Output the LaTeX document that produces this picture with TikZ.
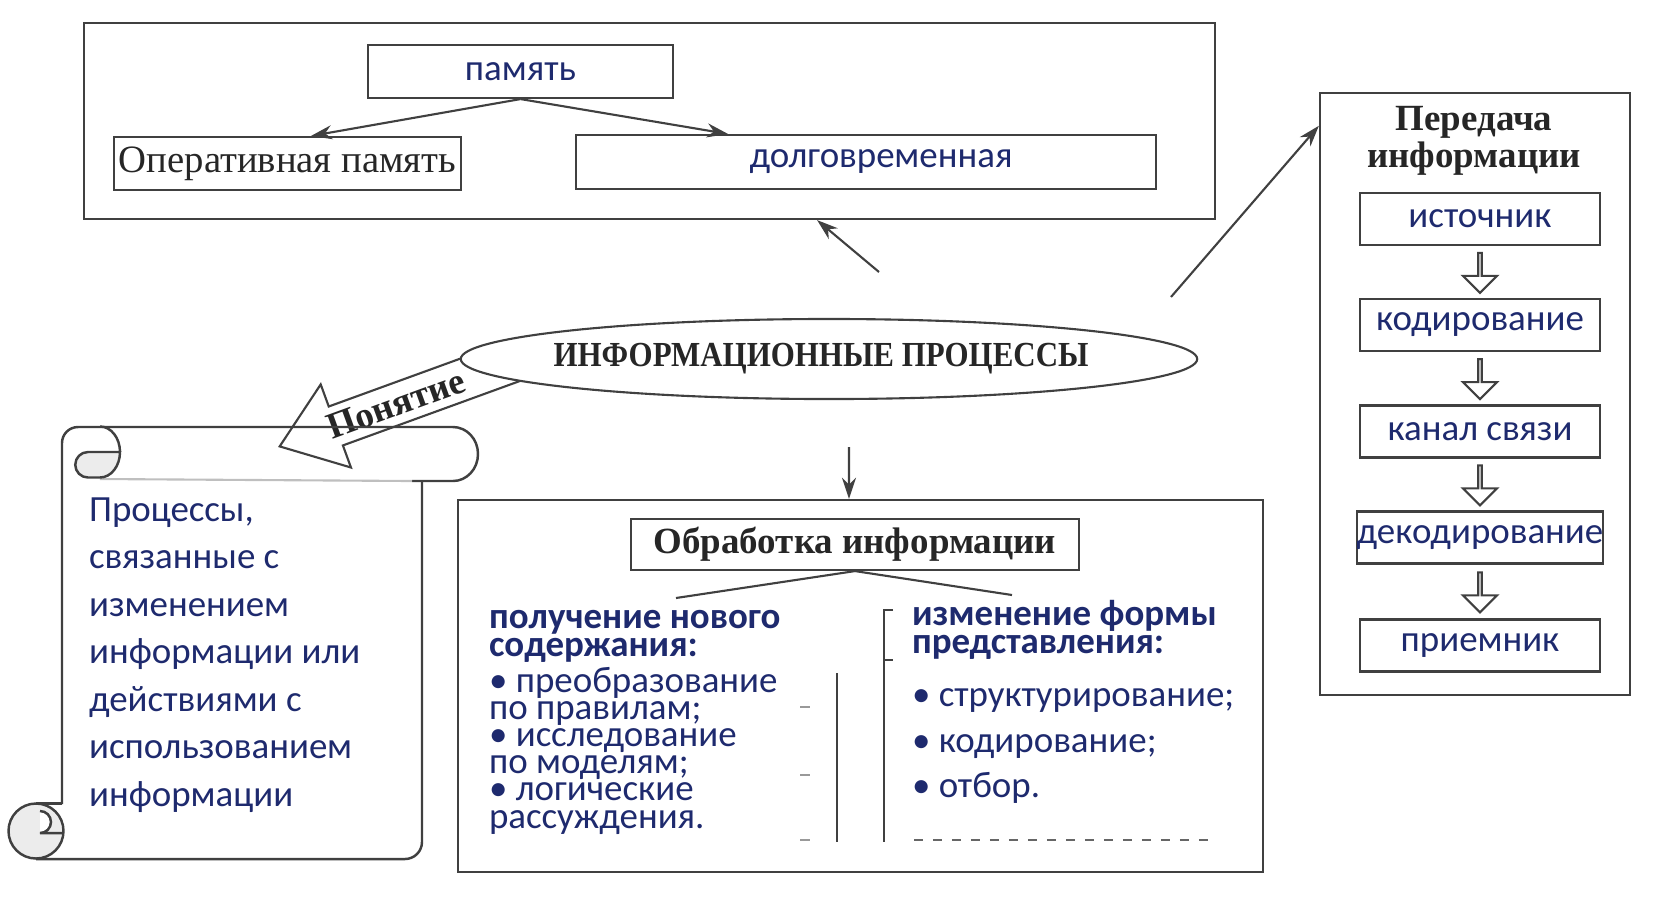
\documentclass[tikz,border=0pt]{standalone}
\usepackage{fontspec}
\setmainfont{Liberation Serif}
\newfontfamily\calfont{Carlito}
\usetikzlibrary{arrows.meta, shapes.geometric, shapes.arrows, calc}
\definecolor{ink}{RGB}{30,42,110}

\begin{document}
\begin{tikzpicture}[x=0.01cm, y=-0.01cm, line width=0.6pt,
        blk/.style={draw=black!75, inner sep=0pt},
        ser/.style={font=\fontsize{11}{11}\selectfont, text=black!85},
        serb/.style={font=\bfseries\fontsize{10.5}{10.5}\selectfont, text=black!85},
        cal/.style={font=\calfont\fontsize{10.5}{12}\selectfont, text=ink},
        txt/.style={text=ink, anchor=base west, align=left, inner sep=0pt},
        arr/.style={draw=black!75, -{Stealth[length=6pt, width=4pt]}},
        hollow/.style={single arrow, draw=black!75, fill=white, rotate=-90, minimum height=0.40cm,
            minimum width=0.34cm, single arrow head extend=0.09cm, inner sep=0pt},
        scroll/.style={draw=black!75, line width=0.7pt}]
          
               \useasboundingbox (0,0) rectangle (1654,896);

               %% память
               \node[blk, minimum width=11.31cm, minimum height=1.96cm] (mem) at (649.5,121) {};
               \node[blk, cal, minimum width=3.05cm, minimum height=0.53cm] (pam) at (520.5,71.5) {память};
               \node[blk, ser, minimum width=3.47cm, minimum height=0.53cm] (oper) at (287.5,163.5) {Оперативная память};
               \node[blk, cal, minimum width=5.80cm, minimum height=0.54cm] (dolg) at (866,162) {\hspace*{0.3cm}долговременная};
               \draw[arr] (pam.south) -- ($(oper.north)+(23.5,0)$);
               \draw[arr] (pam.south) -- ($(dolg.north)+(-138,0)$);

               %% передача
               \node[blk, minimum width=3.10cm, minimum height=6.02cm] (trans) at (1475,394) {};
               \node[serb, align=center] (transt) at (1474,141) {Передача\\информации};
               \node[blk, cal, minimum width=2.40cm, minimum height=0.52cm] (src) at (1480,219) {источник};
               \node[blk, cal, minimum width=2.40cm, minimum height=0.52cm] (enc) at (1480,325) {кодирование};
               \node[blk, cal, minimum width=2.40cm, minimum height=0.52cm] (chan) at (1480,431.5) {канал связи};
               \node[blk, cal, minimum width=2.40cm, minimum height=0.52cm] (dec) at (1480,537.5) {декодирование};
               \node[blk, cal, minimum width=2.40cm, minimum height=0.52cm] (rcv) at (1480,645.5) {приемник};
               \foreach \a/\b in {src/enc, enc/chan, chan/dec, dec/rcv}
                   \node[hollow] (h\a) at ($(\a.south)!0.5!(\b.north)$) {};

               %% Понятие
               \node[single arrow, draw=black!75, fill=white, rotate=20, shape border rotate=180,
                   minimum height=2.5cm, single arrow head extend=0.235cm, single arrow tip angle=73,
                   inner xsep=1pt, inner ysep=2.1pt, serb, anchor=tip] (pon) at (278,447) {Понятие\hspace*{0.3cm}};

               %% процессы
               \node[ellipse, draw=black!75, fill=white, minimum width=7.36cm, minimum height=0.80cm] (proc) at (829,359) {};
               \node[font=\bfseries\fontsize{10}{10}\selectfont, text=black!85, inner sep=0pt] (proct) at (821,359)
                   {\scalebox{0.88}[1]{ИНФОРМАЦИОННЫЕ ПРОЦЕССЫ}};
               \coordinate (pm) at (879,272);
               \coordinate (pt) at (1171,297);
               \coordinate (pd) at (849,447);
               \draw[arr] (pm) -- ([xshift=1.675cm]mem.south);
               \draw[arr] (pt) -- ([yshift=-0.34cm]trans.north west);

               %% обработка
               \node[blk, minimum width=8.05cm, minimum height=3.72cm] (obr) at (860.5,686) {};
               \draw[arr] (pd) -- ([xshift=-0.115cm]obr.north);
               \node[blk, serb, minimum width=4.48cm, minimum height=0.51cm] (obrt) at (855,544.5) {Обработка информации};
               \coordinate (ol) at (676,598);
               \coordinate (or) at (1012,595);
               \draw[draw=black!75] (ol) -- (obrt.south) -- (or);
               \node[txt, font=\calfont\bfseries\fontsize{10.5}{7.7}\selectfont] (newh) at (488,656) {получение нового\\содержания:};
               \node[txt, font=\calfont\fontsize{10.5}{7.7}\selectfont] (newl) at (488,828)
                   {• преобразование\\по правилам;\\• исследование\\по моделям;\\• логические\\рассуждения.};
               \node[txt, font=\calfont\bfseries\fontsize{10.5}{7.7}\selectfont] (formh) at (911,653) {изменение формы\\представления:};
               \node[txt, font=\calfont\fontsize{10.5}{12.8}\selectfont] (forml) at (911,797)
                   {• структурирование;\\• кодирование;\\• отбор.};
               \draw[draw=black!75] (837,673) -- (837,842);
               \draw[draw=black!75] (893,610) -- (884,610) -- (884,842);
               \draw[draw=black!75] (884,660) -- (893,660);
               \draw[black!60, dash pattern=on 2.6pt off 2.8pt] (914,840) -- (1216,840);
               \foreach \y in {707, 775, 840}
                   \draw[black!40] (800,\y) -- (810,\y);

               %% свиток
               \draw[scroll] (62,804) -- (62,443) arc[start angle=180, end angle=270, radius=16] -- (453,427)
                   arc[start angle=-90, end angle=90, x radius=25, y radius=27] -- (412,481);
               \draw[black!25] (100,479) -- (412,481);
               \draw[scroll] (422,481) -- (422,842) arc[start angle=0, end angle=90, radius=17] -- (36,859);
               \draw[scroll, fill=gray!15] (88,452) -- (120,452) arc[start angle=0, end angle=90, x radius=20, y radius=25.5]
                   -- (88,477.5) arc[start angle=90, end angle=270, radius=12.75] -- cycle;
               \draw[scroll] (100,426.5) arc[start angle=-90, end angle=0, x radius=20, y radius=25.5];
               \draw[scroll, fill=gray!15] (36,831) circle[radius=27.5];
               \fill[white] (40,811) arc[start angle=-90, end angle=90, radius=11] -- cycle;
               \draw[scroll] (40,811) arc[start angle=-90, end angle=90, radius=11] -- (63,833);
               \draw[scroll] (36,803.5) -- (62,803.5);
               \node[txt, font=\calfont\fontsize{10.5}{13.5}\selectfont] (def) at (88,806)
                   {Процессы,\\связанные с\\изменением\\информации или\\действиями с\\использованием\\информации};
   \end{tikzpicture}
\end{document}
